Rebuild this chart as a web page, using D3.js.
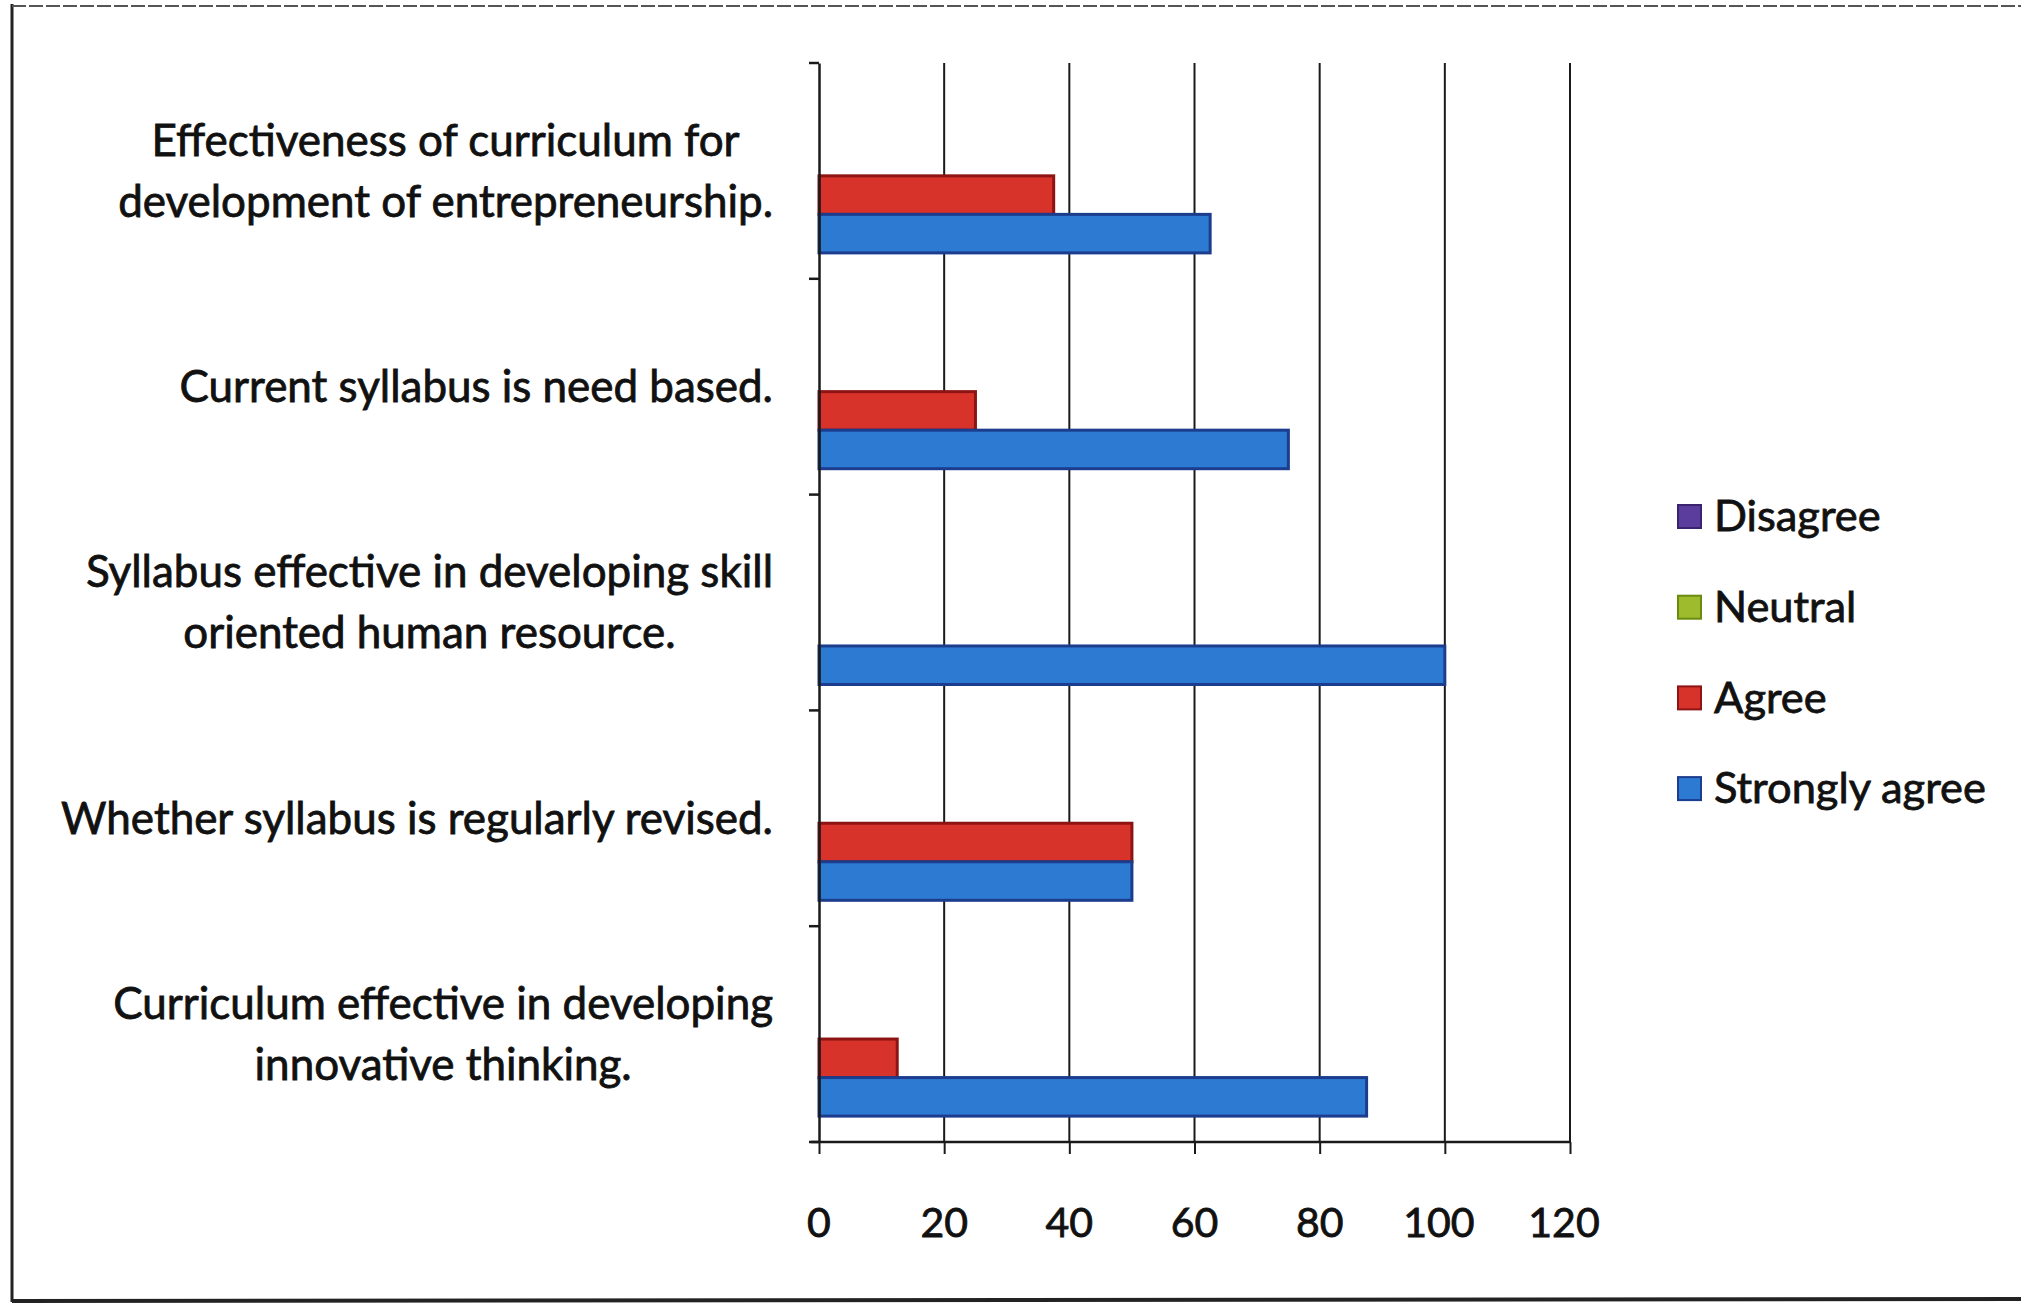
<!DOCTYPE html>
<html>
<head>
<meta charset="utf-8">
<script src="https://cdn.jsdelivr.net/npm/d3@7"></script>
<style>
  html, body { margin: 0; padding: 0; background: #ffffff; }
  svg { display: block; }
  text { font-family: Lato, "Open Sans", sans-serif; fill: #111; stroke: #111; stroke-width: 0.8px; }
</style>
</head>
<body>
<svg id="chart" width="2021" height="1306"></svg>
<script>
// ---- data ----
const categories = [
  "Effectiveness of curriculum for development of entrepreneurship.",
  "Current syllabus is need based.",
  "Syllabus effective in developing skill oriented human resource.",
  "Whether syllabus is regularly revised.",
  "Curriculum effective in developing innovative thinking."
];
const categoryLines = [
  ["Effectiveness of curriculum for", "development of entrepreneurship."],
  ["Current syllabus is need based."],
  ["Syllabus effective in developing skill", "oriented human resource."],
  ["Whether syllabus is regularly revised."],
  ["Curriculum effective in developing", "innovative thinking."]
];
const seriesNames = ["Disagree", "Neutral", "Agree", "Strongly agree"];
const disagree      = [0, 0, 0, 0, 0];
const neutral       = [0, 0, 0, 0, 0];
const agree         = [37.5, 25, 0, 50, 12.5];
const stronglyAgree = [62.5, 75, 100, 50, 87.5];
const xTicks = [0, 20, 40, 60, 80, 100, 120];

// ---- styles ----
const fills   = ["#5a3d9c", "#9dbb2c", "#d8332b", "#2d7ad2"];
const strokes = ["#3a2470", "#6a8a10", "#8e1414", "#1c3c8e"];

const seriesValues = [disagree, neutral, agree, stronglyAgree];
const rows = categories.map((c, i) => ({
  cat: c, i,
  vals: seriesNames.map((s, k) => ({ series: s, k, value: seriesValues[k][i] }))
}));

const svg = d3.select("#chart");

// frame
svg.append("line").attr("x1", 12).attr("x2", 12).attr("y1", 4).attr("y2", 1302)
  .attr("stroke", "#222").attr("stroke-width", 3);
svg.append("line").attr("x1", 12).attr("x2", 2021).attr("y1", 6).attr("y2", 6)
  .attr("stroke", "#555").attr("stroke-width", 2).attr("stroke-dasharray", "14 3");
svg.append("line").attr("x1", 12).attr("x2", 2021).attr("y1", 1301).attr("y2", 1299)
  .attr("stroke", "#222").attr("stroke-width", 4);

const x = d3.scaleLinear().domain([0, 120]).range([819, 1570]);
const y = d3.scaleBand().domain(categories).range([63, 1142]).paddingInner(0).paddingOuter(0);
const ys = d3.scaleBand().domain(seriesNames).range([0, y.bandwidth()])
  .paddingInner(0).paddingOuter(0.8).align(0.58);

// gridlines
svg.append("g").selectAll("line").data(xTicks.filter(t => t > 0)).join("line")
  .attr("x1", d => x(d)).attr("x2", d => x(d))
  .attr("y1", 63).attr("y2", 1142)
  .attr("stroke", "#1a1a1a").attr("stroke-width", 2);

// bars
const g = svg.append("g").selectAll("g").data(rows).join("g")
  .attr("transform", d => `translate(0,${y(d.cat)})`);
g.selectAll("rect").data(d => d.vals.filter(v => v.value > 0)).join("rect")
  .attr("x", x(0))
  .attr("y", v => ys(v.series))
  .attr("width", v => x(v.value) - x(0))
  .attr("height", ys.bandwidth())
  .attr("fill", v => fills[v.k])
  .attr("stroke", v => strokes[v.k])
  .attr("stroke-width", 3);

// y axis
const yAxis = d3.axisLeft(y).tickSize(0).tickFormat("");
const yg = svg.append("g").attr("transform", `translate(${x(0)},0)`).call(yAxis);
yg.select(".domain").attr("stroke", "#1a1a1a").attr("stroke-width", 2.5);
// category boundary ticks
const bounds = categories.map(c => y(c)).concat([y.range()[1]]);
svg.append("g").selectAll("line").data(bounds).join("line")
  .attr("x1", x(0) - 10).attr("x2", x(0)).attr("y1", d => d).attr("y2", d => d)
  .attr("stroke", "#1a1a1a").attr("stroke-width", 2.5);

// x axis
const xAxis = d3.axisBottom(x).tickValues(xTicks).tickSize(12).tickSizeOuter(0).tickFormat("");
const xg = svg.append("g").attr("transform", `translate(0,1142)`).call(xAxis);
xg.select(".domain").attr("stroke", "#1a1a1a").attr("stroke-width", 2.5)
  .attr("d", `M${x(0) - 8},0H${x(120)}`);
xg.selectAll(".tick line").attr("stroke", "#1a1a1a").attr("stroke-width", 2);

svg.append("g").selectAll("text").data(xTicks).join("text")
  .attr("x", d => x(d) - (d >= 100 ? 6 : 0)).attr("y", 1222).attr("dy", "0.36em")
  .attr("text-anchor", "middle")
  .style("font-size", "41px")
  .text(d => d);

// category labels
const labelG = svg.append("g");
// size to match reference width of the widest line
const probe = labelG.append("text").style("font-size", "100px").text("Whether syllabus is regularly revised.");
const labelSize = 100 * 712 / probe.node().getComputedTextLength();
probe.remove();
const rightEdge = 773, lineGap = 61;
rows.forEach((r, i) => {
  const lines = categoryLines[i];
  const cy = y(r.cat) + y.bandwidth() / 2;
  const t = labelG.append("g");
  const texts = lines.map((ln, j) => t.append("text")
    .attr("y", cy + (j - (lines.length - 1) / 2) * lineGap)
    .attr("dy", "0.35em")
    .attr("text-anchor", "middle")
    .style("font-size", labelSize + "px")
    .text(ln));
  const w = d3.max(texts, tx => tx.node().getComputedTextLength());
  texts.forEach(tx => tx.attr("x", rightEdge - w / 2));
});

// legend
const legendNames = ["Disagree", "Neutral", "Agree", "Strongly agree"];
const lg = svg.append("g");
const probe2 = lg.append("text").style("font-size", "100px").text("Strongly agree");
const legSize = 100 * 272 / probe2.node().getComputedTextLength();
probe2.remove();
const li = lg.selectAll("g").data(legendNames).join("g")
  .attr("transform", (d, i) => `translate(1678,${516 + i * 90.7})`);
li.append("rect").attr("x", 0).attr("y", -11).attr("width", 23).attr("height", 23)
  .attr("fill", (d, i) => fills[i]).attr("stroke", (d, i) => strokes[i]).attr("stroke-width", 2);
li.append("text").attr("x", 36).attr("dy", "0.35em")
  .style("font-size", legSize + "px").text(d => d);
</script>
</body>
</html>
